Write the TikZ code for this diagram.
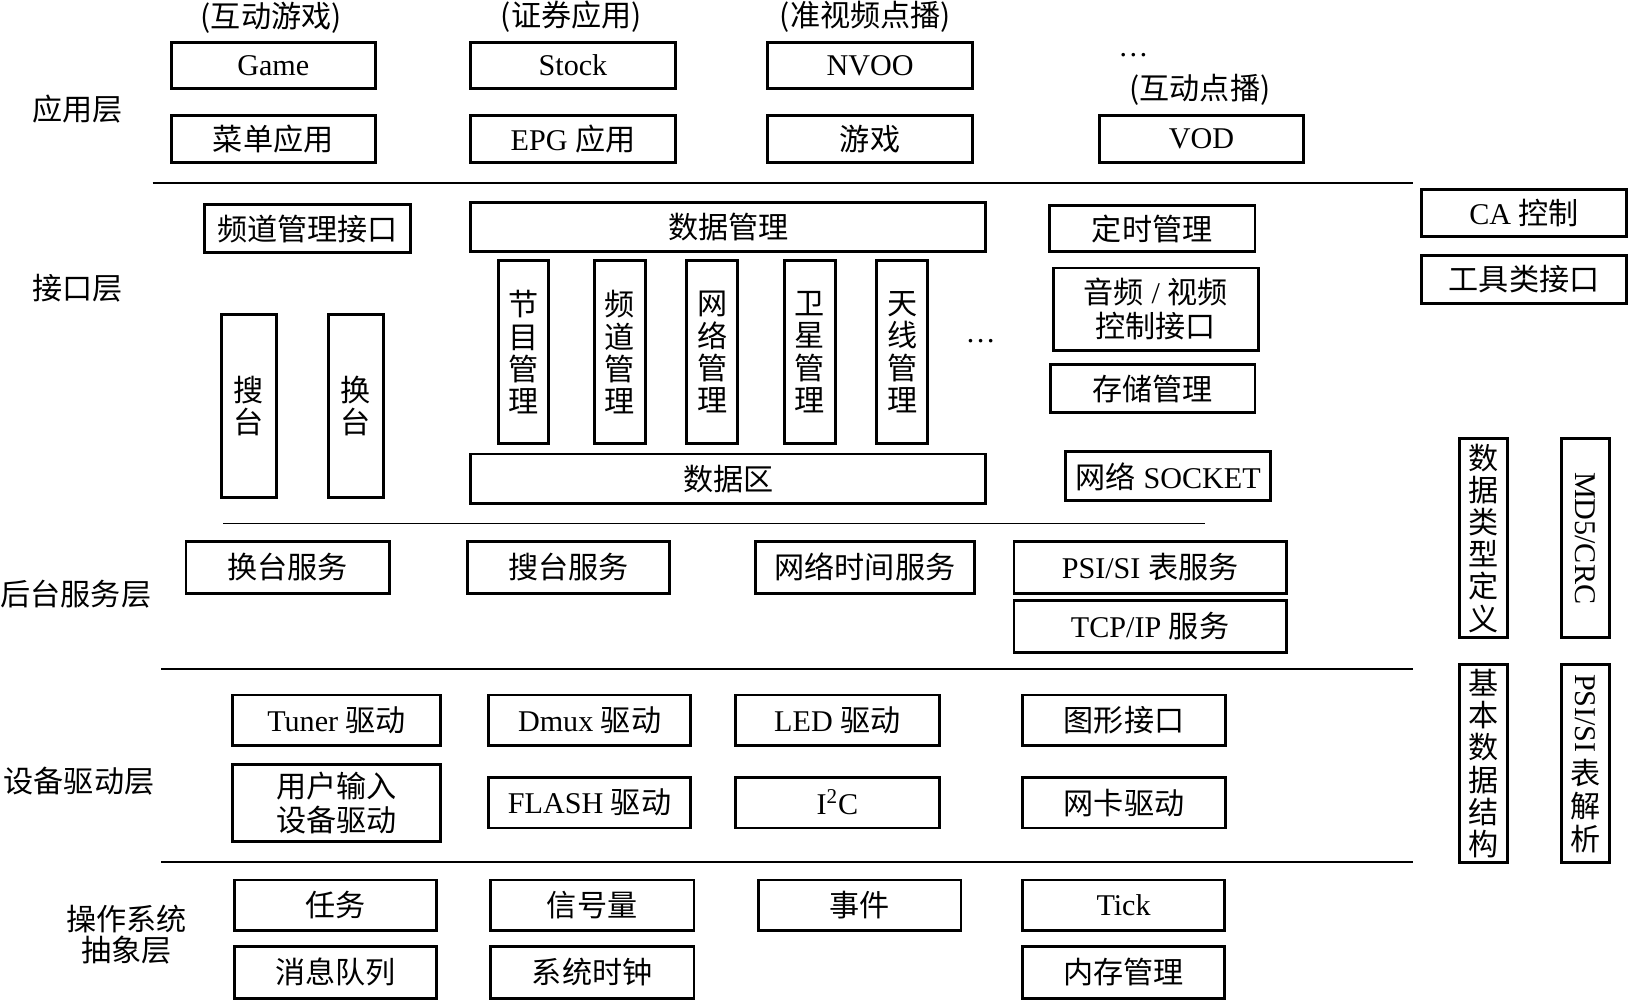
\documentclass[tikz,border=0pt]{standalone}
\usepackage{fontspec}
\usepackage{graphicx}
\setmainfont{Liberation Serif}
\newfontfamily\cjkf{Noto Sans CJK SC}
\newcommand\cj[1]{{\cjkf #1}}
\newcommand\fs{\fontsize{14.5}{16}\selectfont}
\newcommand\vfs{\fontsize{14.5}{15.5}\selectfont\cjkf}
\tikzset{
  bx/.style={draw, line width=1.4pt, inner sep=0pt, align=center, font=\fs},
  vbx/.style={bx, font=\vfs},
  lbl/.style={inner sep=0pt, align=center, font=\fs},
  sepline/.style={line width=1.1pt},
  thinsep/.style={line width=0.6pt},
}
\newcommand\bx[6]{\node[bx, minimum width={(#4-#2)*0.5pt}, minimum height={(#5-#3)*0.5pt}] (#1) at ({(#2+#4)/2},{(#3+#5)/2}) {#6};}
\newcommand\vb[6]{\node[vbx, minimum width={(#4-#2)*0.5pt}, minimum height={(#5-#3)*0.5pt}] (#1) at ({(#2+#4)/2},{(#3+#5)/2}) {#6};}
\begin{document}
\begin{tikzpicture}[x=0.5pt,y=-0.5pt]
\useasboundingbox (0,0) rectangle (1568,963);
% layer labels
\node[lbl] (lapp) at (75,105) {\cj{应用层}};
\node[lbl] (lif) at (75,277) {\cj{接口层}};
\node[lbl] (lbg) at (73,572) {\cj{后台服务层}};
\node[lbl] (ldev) at (76,752) {\cj{设备驱动层}};
\node[lbl, font=\fontsize{14.5}{15}\selectfont\cjkf] (los) at (122,900) {操作系统\\抽象层};
% separators
\draw[sepline] (147,176) -- (1360,176);
\draw[thinsep] (215,504) -- (1160,504);
\draw[sepline] (155,644) -- (1360,644);
\draw[sepline] (155,830) -- (1360,830);
% application layer
\node[lbl] (c1) at (261,17) {\cj{(互动游戏)}};
\node[lbl] (c2) at (550,16) {\cj{(证券应用)}};
\node[lbl] (c3) at (833,16) {\cj{(准视频点播)}};
\node[lbl] (c4) at (1155,86) {\cj{(互动点播)}};
\node[lbl] (dots1) at (1091,53) {…};
\bx{game}{165}{41}{361}{85}{Game}
\bx{stock}{453}{41}{650}{85}{Stock}
\bx{nvoo}{739}{41}{936}{85}{NVOO}
\bx{menu}{165}{111}{361}{156}{\cj{菜单应用}}
\bx{epg}{453}{111}{650}{156}{EPG \cj{应用}}
\bx{game2}{739}{111}{936}{156}{\cj{游戏}}
\bx{vod}{1058}{111}{1255}{156}{VOD}
% interface layer
\bx{chif}{197}{197}{395}{243}{\cj{频道管理接口}}
\bx{dm}{453}{195}{949}{242}{\cj{数据管理}}
\bx{timer}{1010}{198}{1208}{242}{\cj{定时管理}}
\bx{ca}{1368}{182}{1566}{228}{CA \cj{控制}}
\bx{tool}{1368}{246}{1566}{292}{\cj{工具类接口}}
\vb{prog}{480}{251}{528}{427}{节\\目\\管\\理}
\vb{chm}{572}{251}{621}{427}{频\\道\\管\\理}
\vb{netm}{661}{251}{710}{427}{网\\络\\管\\理}
\vb{sat}{755}{251}{804}{427}{卫\\星\\管\\理}
\vb{ant}{844}{251}{893}{427}{天\\线\\管\\理}
\node[lbl] (dots2) at (944,328) {…};
\bx{av}{1014}{258}{1211}{337}{\cj{音频} / \cj{视频}\\\cj{控制接口}}
\bx{stor}{1011}{351}{1208}{397}{\cj{存储管理}}
\vb{search}{213}{303}{266}{479}{搜\\台}
\vb{switch}{316}{303}{369}{479}{换\\台}
\bx{darea}{453}{437}{949}{485}{\cj{数据区}}
\bx{sock}{1026}{435}{1223}{482}{\cj{网络} SOCKET}
\vb{dtype}{1405}{422}{1451}{614}{数\\据\\类\\型\\定\\义}
\bx{md5}{1503}{422}{1549}{614}{\rotatebox{-90}{MD5/CRC}}
\vb{bds}{1405}{640}{1451}{830}{基\\本\\数\\据\\结\\构}
\bx{psip}{1503}{640}{1549}{830}{\rotatebox{-90}{PSI/SI}\\[2pt]\cj{表}\\\cj{解}\\\cj{析}}
% background service layer
\bx{swsrv}{179}{521}{375}{571}{\cj{换台服务}}
\bx{sesrv}{450}{521}{644}{571}{\cj{搜台服务}}
\bx{ntsrv}{727}{521}{938}{571}{\cj{网络时间服务}}
\bx{psisrv}{976}{521}{1238}{571}{PSI/SI \cj{表服务}}
\bx{tcpsrv}{976}{578}{1238}{628}{TCP/IP \cj{服务}}
% device driver layer
\bx{tuner}{224}{669}{424}{718}{Tuner \cj{驱动}}
\bx{dmux}{470}{669}{665}{718}{Dmux \cj{驱动}}
\bx{led}{708}{669}{904}{718}{LED \cj{驱动}}
\bx{gfx}{984}{669}{1180}{718}{\cj{图形接口}}
\bx{uin}{224}{736}{424}{810}{\cj{用户输入}\\\cj{设备驱动}}
\bx{flash}{470}{748}{665}{797}{FLASH \cj{驱动}}
\bx{iic}{708}{748}{904}{797}{I\textsuperscript{2}C}
\bx{nic}{984}{748}{1180}{797}{\cj{网卡驱动}}
% OS abstraction layer
\bx{task}{226}{847}{420}{896}{\cj{任务}}
\bx{sem}{472}{847}{668}{896}{\cj{信号量}}
\bx{evt}{730}{847}{925}{896}{\cj{事件}}
\bx{tick}{984}{847}{1179}{896}{Tick}
\bx{mq}{226}{911}{420}{961}{\cj{消息队列}}
\bx{clk}{472}{911}{668}{961}{\cj{系统时钟}}
\bx{mem}{984}{911}{1179}{961}{\cj{内存管理}}
\end{tikzpicture}
\end{document}
